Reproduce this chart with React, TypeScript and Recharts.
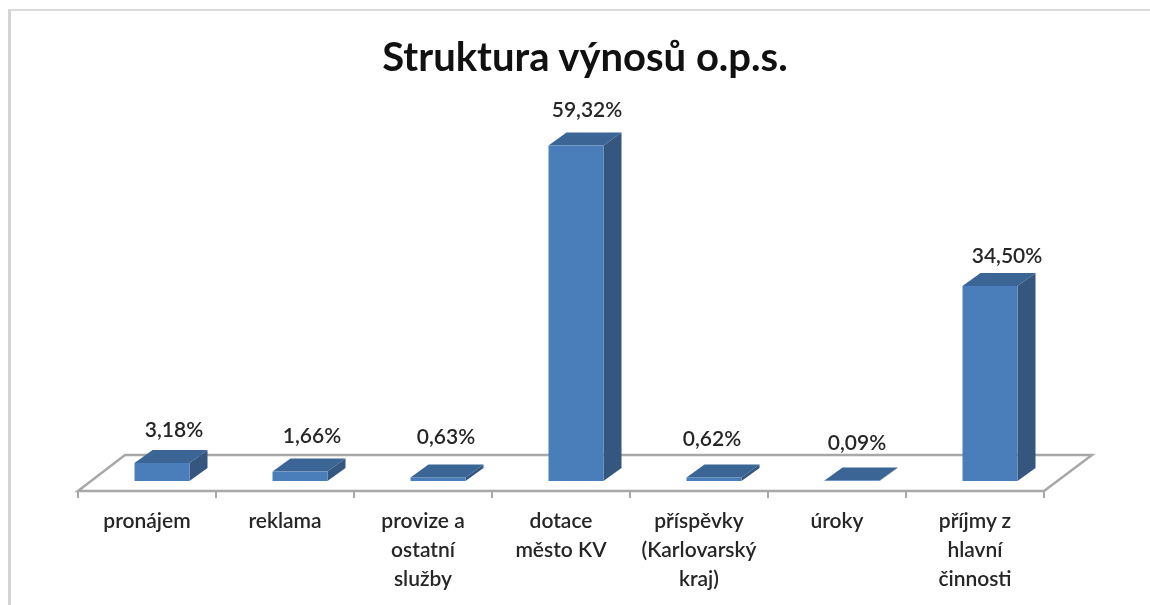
import React from 'react'
import { BarChart, Bar, XAxis, YAxis, LabelList, usePlotArea } from 'recharts'

const categories = ['pronájem', 'reklama', 'provize a|ostatní|služby', 'dotace|město KV', 'příspěvky|(Karlovarský|kraj)', 'úroky', 'příjmy z|hlavní|činnosti']
const shares = [3.18, 1.66, 0.63, 59.32, 0.62, 0.09, 34.5]

// excel posadil popisky nepravidelne, tak se doladi rucne
const labelNudgeX = [12, 12, 8, 11, -2, 5, 17]
const labelNudgeY = [3, 0, -4, 0, -2, -1, 6]

const FONT = 'Lato, sans-serif'
const TEXT = '#262626'
const GRID = '#a8a8a8'
const DEPTH_X = 18
const DEPTH_Y = 13
const BAR_SHIFT = 14.5

const data = categories.map((name, i) => ({ name, share: shares[i] }))

const Floor = () => {
  const plot = usePlotArea()
  if (!plot) return null
  const left = plot.x
  const right = plot.x + plot.width
  const front = plot.y + plot.height
  const back = front - 36
  const step = plot.width / categories.length
  return (
    <g>
      <polygon
        points={`${left},${front} ${left + 47},${back} ${right + 48},${back} ${right},${front}`}
        fill="#fff"
        stroke={GRID}
        strokeWidth={2.5}
      />
      {[...categories, ''].map((_, i) => (
        <line key={i} x1={left + i * step} x2={left + i * step} y1={front} y2={front + 7} stroke={GRID} strokeWidth={2} />
      ))}
    </g>
  )
}

// sloupec se trojrozmernym vzhledem: predni stena, vrsek, bok
const Bar3D = (props: any) => {
  const { x, y, width, height } = props
  const l = x + BAR_SHIFT
  const r = l + width
  const b = y + height
  return (
    <g>
      <polygon points={`${l},${y} ${l + DEPTH_X},${y - DEPTH_Y} ${r + DEPTH_X},${y - DEPTH_Y} ${r},${y}`} fill="#3b6595" />
      <polygon points={`${r},${y} ${r + DEPTH_X},${y - DEPTH_Y} ${r + DEPTH_X},${b - DEPTH_Y} ${r},${b}`} fill="#35577f" />
      <rect x={l} y={y} width={width} height={height} fill="#4a7ebb" />
    </g>
  )
}

const CategoryTick = (props: any) => {
  const { x, y, payload } = props
  const lines = String(payload.value).split('|')
  return (
    <text x={x} y={y + 35} textAnchor="middle" fontFamily={FONT} fontSize={21} fontWeight={600} fill={TEXT}>
      {lines.map((line, i) => (
        <tspan key={line} x={x} dy={i === 0 ? 0 : 29}>
          {line}
        </tspan>
      ))}
    </text>
  )
}

const ShareLabel = (props: any) => {
  const { x, y, width, value, index } = props
  return (
    <text
      x={x + width / 2 + BAR_SHIFT + labelNudgeX[index]}
      y={y - 29 + labelNudgeY[index]}
      textAnchor="middle"
      fontFamily={FONT}
      fontSize={21}
      fontWeight={600}
      fill={TEXT}
    >
      {value.toFixed(2).replace('.', ',')}%
    </text>
  )
}

export default function App() {
  return (
    <div style={{ position: 'absolute', left: 0, top: 0, width: 1150, height: 605, background: '#fff', overflow: 'hidden', filter: 'blur(0.5px)' }}>
      <div style={{ position: 'absolute', left: 8, top: 9, right: -4, bottom: -4, borderLeft: '3px solid #d4d4d4', borderTop: '2px solid #dcdcdc' }} />
      <div style={{ position: 'absolute', left: 0, top: 0 }}>
        <BarChart width={1150} height={605} data={data} margin={{ top: 90, right: 106, bottom: 0, left: 78 }} barSize={55}>
          <Floor />
          <XAxis dataKey="name" interval={0} height={114} axisLine={false} tickLine={false} tickSize={0} tick={<CategoryTick />} />
          <YAxis hide width={0} domain={[-1.77, 69.14]} />
          <Bar dataKey="share" shape={<Bar3D />} isAnimationActive={false}>
            <LabelList dataKey="share" content={<ShareLabel />} />
          </Bar>
          <text x={585} y={71} textAnchor="middle" fontFamily={FONT} fontSize={40} fontWeight={700} fill="#111">
            Struktura výnosů o.p.s.
          </text>
        </BarChart>
      </div>
    </div>
  )
}
